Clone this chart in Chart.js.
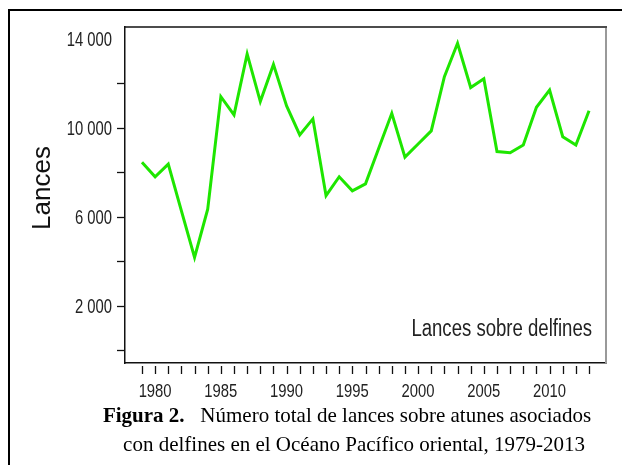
<!DOCTYPE html>
<html>
<head>
<meta charset="utf-8">
<script src="https://cdn.jsdelivr.net/npm/chart.js@4/dist/chart.umd.min.js"></script>
<style>
  body { margin: 0; background: #fff; }
  #wrap { position: relative; width: 622px; height: 465px; overflow: hidden; }
  #frame { position: absolute; left: 8px; top: 9px; width: 700px; height: 500px;
           border-top: 2px solid #000; border-left: 2px solid #000; }
  canvas { position: absolute; left: 0; top: 0; }
  #cap { position: absolute; left: 50px; top: 401px; width: 600px; text-align: center;
         font-family: "Liberation Serif", "Times New Roman", serif; font-size: 21px;
         line-height: 29px; color: #000; }
  #cap span { display: block; position: relative; }
</style>
</head>
<body>
<div id="wrap">
  <div id="frame"></div>
  <canvas id="chart" width="622" height="465"></canvas>
  <div id="cap">
    <span style="left:-3px"><b>Figura 2.</b>&nbsp;&nbsp; Número total de lances sobre atunes asociados</span>
    <span style="left:4px">con delfines en el Océano Pacífico oriental, 1979-2013</span>
  </div>
</div>
<script>
// data
const years = [1979, 1980, 1981, 1982, 1983, 1984, 1985, 1986, 1987, 1988,
               1989, 1990, 1991, 1992, 1993, 1994, 1995, 1996, 1997, 1998,
               1999, 2000, 2001, 2002, 2003, 2004, 2005, 2006, 2007, 2008,
               2009, 2010, 2011, 2012, 2013];
const lances = [8480, 7830, 8400, 6300, 4210, 6370, 11430, 10610, 13350, 11210,
                12880, 11010, 9710, 10430, 6980, 7830, 7200, 7510, 9100, 10680,
                8710, 9300, 9890, 12330, 13830, 11840, 12230, 8960, 8910, 9260,
                10950, 11730, 9630, 9260, 10800];
const yTicks = [0, 2000, 4000, 6000, 8000, 10000, 12000, 14000];
const yLabelled = [2000, 6000, 10000, 14000];
const xLabelEvery = 5;

const sans = '"Liberation Sans", Arial, sans-serif';

// the figure's sans text is squeezed sideways, so draw it with a horizontal scale
function squeezed(ctx, text, x, y, size, sx, align) {
    ctx.save();
    ctx.font = size + 'px ' + sans;
    ctx.textAlign = align;
    ctx.textBaseline = 'middle';
    ctx.translate(x, y);
    ctx.scale(sx, 1);
    ctx.fillText(text, 0, 0);
    ctx.restore();
}

function fmt(v) {
    return String(v).replace(/\B(?=(\d{3})+(?!\d))/g, ' ');
}

const extras = {
    id: 'extras',
    afterDraw(chart) {
        const ctx = chart.ctx;
        const a = chart.chartArea;
        const x = chart.scales.x;
        const y = chart.scales.y;
        ctx.save();
        // box top and right side
        ctx.strokeStyle = '#111';
        ctx.lineWidth = 1.5;
        ctx.beginPath();
        ctx.moveTo(a.left, a.top);
        ctx.lineTo(a.right + 1, a.top);
        ctx.stroke();
        ctx.strokeStyle = '#999';
        ctx.lineWidth = 2;
        ctx.beginPath();
        ctx.moveTo(a.right, a.top + 1);
        ctx.lineTo(a.right, a.bottom);
        ctx.stroke();

        // year ticks, a little below the axis
        ctx.strokeStyle = '#111';
        ctx.lineWidth = 1.3;
        years.forEach(v => {
            const px = Math.round(x.getPixelForValue(v)) + 0.5;
            ctx.beginPath();
            ctx.moveTo(px, a.bottom + 3);
            ctx.lineTo(px, a.bottom + 11);
            ctx.stroke();
        });

        // tick labels
        ctx.fillStyle = '#222';
        years.filter(v => v % xLabelEvery === 0).forEach(v => {
            squeezed(ctx, String(v), x.getPixelForValue(v), a.bottom + 29, 19, 0.78, 'center');
        });
        yLabelled.forEach(v => {
            squeezed(ctx, fmt(v), a.left - 13, y.getPixelForValue(v) + 1, 20, 0.74, 'right');
        });

        // series label inside the plot
        squeezed(ctx, 'Lances sobre delfines', a.right - 14, 330, 23.5, 0.79, 'right');

        // axis title
        ctx.fillStyle = '#111';
        ctx.font = '26px ' + sans;
        ctx.textAlign = 'center';
        ctx.textBaseline = 'middle';
        ctx.translate(43, 188);
        ctx.rotate(-Math.PI / 2);
        ctx.fillText('Lances', 0, 0);
        ctx.restore();
    }
};

new Chart(document.getElementById('chart'), {
    type: 'line',
    data: {
        datasets: [{
            data: years.map((yr, i) => ({ x: yr, y: lances[i] })),
            borderColor: '#1ee600',
            borderWidth: 3,
            pointRadius: 0,
            tension: 0,
            fill: false
        }]
    },
    options: {
        responsive: false,
        animation: false,
        events: [],
        layout: { padding: { left: 0, top: 27, right: 16, bottom: 0 } },
        plugins: { legend: { display: false }, tooltip: { enabled: false } },
        scales: {
            x: {
                type: 'linear',
                min: 1977.71,
                max: 2014.29,
                afterBuildTicks: s => { s.ticks = years.map(v => ({ value: v })); },
                afterFit: s => { s.height = 102; },
                grid: { display: false },
                border: { display: true, color: '#111', width: 1.5 },
                ticks: { display: false }
            },
            y: {
                min: -540,
                max: 14560,
                afterBuildTicks: s => { s.ticks = yTicks.map(v => ({ value: v })); },
                afterFit: s => { s.width = 125; },
                grid: {
                    drawOnChartArea: false,
                    tickLength: 8,
                    tickWidth: 1.3,
                    tickColor: c => (c.tick && c.tick.value === 14000 ? 'rgba(0,0,0,0)' : '#111')
                },
                border: { display: true, color: '#111', width: 1.5 },
                ticks: { display: false }
            }
        }
    },
    plugins: [extras]
});
</script>
</body>
</html>
